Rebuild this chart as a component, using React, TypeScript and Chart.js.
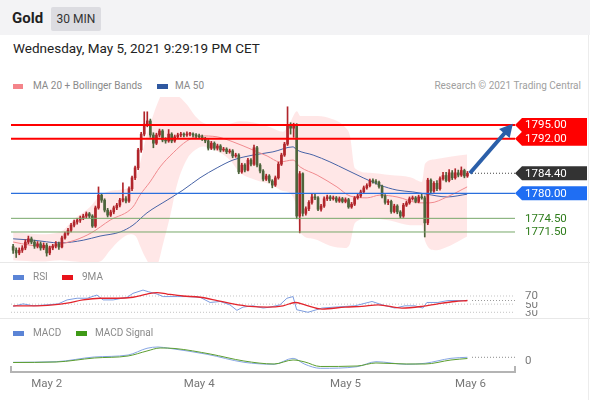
import React, { useEffect, useRef } from "react";
import { Chart, registerables } from "chart.js";

Chart.register(...registerables);

const FONT = "Roboto, 'Liberation Sans', Arial, sans-serif";

// ---------------- DATA ----------------
// 30-minute candles, index 0..149 (oldest -> latest)
const opens = [
  1768.3, 1767.5, 1766.9, 1767.5, 1768.0, 1769.3, 1770.0, 1769.3, 1768.4, 1768.9,
  1768.0, 1768.6, 1766.9, 1768.0, 1768.4, 1768.9, 1768.2, 1770.2, 1771.1, 1771.9,
  1773.0, 1773.7, 1774.1, 1774.6, 1775.0, 1775.5, 1775.0, 1772.8, 1776.8, 1779.6,
  1778.5, 1776.3, 1775.2, 1775.9, 1776.8, 1777.4, 1778.5, 1778.8, 1778.3, 1781.0,
  1783.4, 1785.6, 1789.5, 1793.0, 1795.2, 1795.9, 1792.8, 1791.0, 1792.8, 1793.7,
  1791.7, 1791.5, 1793.0, 1791.5, 1792.4, 1792.8, 1793.0, 1792.8, 1793.0, 1793.0,
  1792.8, 1792.6, 1792.4, 1791.9, 1791.5, 1789.9, 1791.0, 1789.9, 1790.4, 1789.5,
  1789.7, 1789.1, 1789.3, 1788.2, 1788.4, 1784.7, 1786.2, 1785.1, 1787.3, 1786.4,
  1790.0, 1786.2, 1784.9, 1783.1, 1783.8, 1782.7, 1781.8, 1783.4, 1786.4, 1788.4,
  1790.8, 1794.8, 1794.3, 1794.8, 1775.0, 1784.3, 1775.6, 1776.6, 1778.0, 1779.2,
  1779.0, 1776.5, 1777.2, 1778.8, 1779.2, 1778.8, 1779.0, 1778.3, 1778.8, 1778.2,
  1778.6, 1777.0, 1777.6, 1779.0, 1779.4, 1780.3, 1781.2, 1781.7, 1782.7, 1782.6,
  1782.4, 1781.5, 1779.4, 1778.0, 1778.2, 1776.0, 1777.2, 1775.9, 1775.0, 1777.4,
  1777.9, 1778.8, 1779.0, 1778.2, 1779.2, 1779.0, 1773.5, 1782.9, 1780.5, 1782.2,
  1781.0, 1783.2, 1783.9, 1782.8, 1784.5, 1783.4, 1784.5, 1784.0, 1785.0, 1783.8,
];
const highs = [
  1768.8, 1768.0, 1768.0, 1768.5, 1769.8, 1770.6, 1770.4, 1769.7, 1769.4, 1769.3,
  1769.1, 1769.0, 1768.4, 1768.8, 1769.4, 1769.3, 1770.6, 1771.5, 1772.3, 1773.4,
  1774.1, 1774.5, 1775.0, 1775.4, 1775.9, 1775.8, 1775.3, 1777.2, 1781.4, 1780.0,
  1778.8, 1776.7, 1776.3, 1777.2, 1777.8, 1778.9, 1782.3, 1779.3, 1781.4, 1783.8,
  1786.0, 1789.9, 1793.4, 1797.9, 1797.9, 1796.3, 1793.3, 1793.2, 1794.1, 1794.0,
  1792.2, 1794.0, 1793.3, 1792.8, 1793.2, 1793.4, 1793.3, 1793.5, 1793.4, 1793.3,
  1793.1, 1793.0, 1792.8, 1792.3, 1791.8, 1791.4, 1791.3, 1790.8, 1790.7, 1790.1,
  1790.0, 1789.7, 1789.6, 1788.8, 1788.7, 1786.6, 1786.5, 1787.7, 1787.6, 1790.6,
  1790.3, 1786.5, 1785.2, 1784.2, 1784.1, 1783.0, 1783.8, 1786.8, 1788.8, 1791.2,
  1799.0, 1795.5, 1795.4, 1795.3, 1784.8, 1784.5, 1777.0, 1778.4, 1779.8, 1779.9,
  1779.3, 1777.6, 1779.2, 1779.6, 1779.5, 1779.4, 1779.3, 1779.2, 1779.1, 1779.0,
  1778.9, 1778.0, 1779.3, 1779.8, 1780.7, 1781.6, 1782.1, 1783.1, 1783.2, 1783.0,
  1782.7, 1781.8, 1779.7, 1778.6, 1778.5, 1777.6, 1777.5, 1776.2, 1777.8, 1778.3,
  1779.2, 1779.4, 1779.3, 1779.6, 1779.9, 1779.4, 1783.3, 1783.2, 1782.6, 1782.8,
  1783.6, 1784.6, 1784.6, 1785.2, 1785.0, 1785.4, 1785.1, 1785.8, 1785.3, 1784.8,
];
const lows = [
  1766.8, 1765.9, 1766.5, 1767.0, 1767.6, 1768.9, 1768.9, 1767.9, 1768.0, 1767.5,
  1767.6, 1766.2, 1766.5, 1767.6, 1768.0, 1767.7, 1768.0, 1769.9, 1770.8, 1771.5,
  1772.6, 1773.2, 1773.6, 1774.2, 1774.5, 1774.6, 1772.5, 1772.5, 1776.5, 1778.0,
  1775.9, 1774.8, 1774.9, 1775.5, 1776.4, 1777.0, 1778.1, 1777.9, 1778.0, 1780.6,
  1783.0, 1785.2, 1789.0, 1792.6, 1794.6, 1792.3, 1790.0, 1790.7, 1792.4, 1791.3,
  1791.0, 1791.2, 1791.1, 1791.2, 1792.0, 1792.4, 1792.4, 1792.5, 1792.6, 1792.4,
  1792.2, 1792.0, 1791.6, 1791.1, 1789.5, 1789.6, 1789.5, 1789.5, 1789.1, 1789.2,
  1788.7, 1788.8, 1787.8, 1787.9, 1784.3, 1784.4, 1784.7, 1784.9, 1786.0, 1786.1,
  1785.8, 1784.5, 1782.7, 1782.8, 1782.3, 1781.2, 1781.5, 1783.1, 1786.1, 1788.1,
  1790.5, 1793.0, 1792.3, 1774.4, 1771.3, 1775.0, 1775.2, 1776.2, 1777.6, 1778.6,
  1776.2, 1776.1, 1776.9, 1778.4, 1778.4, 1778.5, 1778.0, 1778.0, 1777.9, 1777.9,
  1776.7, 1776.7, 1777.3, 1778.7, 1779.1, 1780.0, 1780.9, 1781.4, 1782.2, 1782.0,
  1781.1, 1779.0, 1777.6, 1777.5, 1775.6, 1775.7, 1775.5, 1774.6, 1774.7, 1777.1,
  1777.6, 1778.5, 1777.9, 1777.9, 1778.7, 1770.4, 1773.1, 1780.1, 1780.2, 1780.6,
  1780.7, 1782.9, 1782.5, 1782.5, 1783.0, 1783.1, 1783.6, 1783.7, 1783.4, 1783.5,
];
const closes = [
  1767.5, 1766.9, 1767.5, 1768.0, 1769.3, 1770.0, 1769.3, 1768.4, 1768.9, 1768.0,
  1768.6, 1766.9, 1768.0, 1768.4, 1768.9, 1768.2, 1770.2, 1771.1, 1771.9, 1773.0,
  1773.7, 1774.1, 1774.6, 1775.0, 1775.5, 1775.0, 1772.8, 1776.8, 1779.6, 1778.5,
  1776.3, 1775.2, 1775.9, 1776.8, 1777.4, 1778.5, 1778.8, 1778.3, 1781.0, 1783.4,
  1785.6, 1789.5, 1793.0, 1795.2, 1795.9, 1792.8, 1791.0, 1792.8, 1793.7, 1791.7,
  1791.5, 1793.0, 1791.5, 1792.4, 1792.8, 1793.0, 1792.8, 1793.0, 1793.0, 1792.8,
  1792.6, 1792.4, 1791.9, 1791.5, 1789.9, 1791.0, 1789.9, 1790.4, 1789.5, 1789.7,
  1789.1, 1789.3, 1788.2, 1788.4, 1784.7, 1786.2, 1785.1, 1787.3, 1786.4, 1790.0,
  1786.2, 1784.9, 1783.1, 1783.8, 1782.7, 1781.8, 1783.4, 1786.4, 1788.4, 1790.8,
  1794.8, 1794.3, 1794.8, 1775.0, 1784.3, 1775.6, 1776.6, 1778.0, 1779.2, 1779.0,
  1776.5, 1777.2, 1778.8, 1779.2, 1778.8, 1779.0, 1778.3, 1778.8, 1778.2, 1778.6,
  1777.0, 1777.6, 1779.0, 1779.4, 1780.3, 1781.2, 1781.7, 1782.7, 1782.6, 1782.4,
  1781.5, 1779.4, 1778.0, 1778.2, 1776.0, 1777.2, 1775.9, 1775.0, 1777.4, 1777.9,
  1778.8, 1779.0, 1778.2, 1779.2, 1779.0, 1773.5, 1782.9, 1780.5, 1782.2, 1781.0,
  1783.2, 1783.9, 1782.8, 1784.5, 1783.4, 1784.5, 1784.0, 1785.0, 1783.8, 1784.4,
];

// x-axis tick labels (candle index positions)
const xTickIdx = [11, 61, 109, 150];
const xTickLabels = ["May 2", "May 4", "May 5", "May 6"];

// key levels
const resistanceLevels = [1795.0, 1792.0];
const pivotLevel = 1780.0;
const supportLevels = [1774.5, 1771.5];
const lastPrice = 1784.4;
const lastIdx = 150.5;
const arrowFrom = [149.8, 1784.4];
const arrowTo = [163.9, 1795.3];

// MA 20 (read at candle positions)
const ma20Idx = [0, 5.6, 11.5, 15.7, 20.3, 25.6, 31.8, 39.3, 41.6, 44.9, 48.2, 52.5, 57, 61.3, 66.9, 72.1, 78.7, 83.3, 87.5, 91.8, 94.1, 99.7, 106.2, 110.5, 116.1, 120.3, 125.9, 133.4, 136.7, 142.3, 148.9];
const ma20Vals = [1769.3, 1768.6, 1768.2, 1768.9, 1769.7, 1771.3, 1774.1, 1777.0, 1779.6, 1782.5, 1785.8, 1788.9, 1791.5, 1792.6, 1792.4, 1791.3, 1789.5, 1788.2, 1786.9, 1787.3, 1785.8, 1784.0, 1781.4, 1779.4, 1779.0, 1779.6, 1779.2, 1777.9, 1777.9, 1779.2, 1781.4];

// MA 50
const ma50Idx = [0, 6.6, 15.4, 23, 28.5, 35.1, 39.3, 43.9, 50.5, 55.7, 61.3, 66.9, 72.1, 78.7, 85.2, 91.8, 93.1, 98.4, 103.9, 109.5, 114.8, 120.3, 125.9, 131.1, 135.7, 142.3, 148.9];
const ma50Vals = [1770.0, 1769.7, 1769.1, 1769.7, 1770.6, 1771.5, 1773.0, 1775.7, 1778.5, 1780.7, 1783.4, 1785.6, 1787.3, 1788.4, 1789.1, 1790.2, 1789.5, 1788.4, 1786.9, 1785.1, 1783.4, 1781.8, 1780.7, 1780.3, 1779.8, 1779.2, 1779.8];

// Bollinger bands
const bbIdx = [0, 8.9, 15.4, 20.3, 25.2, 28.5, 31.8, 35.1, 38.4, 40.3, 41.6, 43.3, 44.9, 47.2, 49.2, 51.5, 53.8, 57, 59.7, 62.3, 66.2, 71.1, 74.4, 79.3, 84.3, 88.5, 90.8, 93.1, 94.1, 98.4, 103.9, 108.9, 110.5, 112.1, 117, 123.6, 130.2, 134.1, 135.1, 138.4, 143.3, 148.9];
const bbUpper = [1771.5, 1771.0, 1771.5, 1774.5, 1777.0, 1779.5, 1780.5, 1780.8, 1781.5, 1783.5, 1786.5, 1791.5, 1795.0, 1799.5, 1802.0, 1802.0, 1801.5, 1799.5, 1797.0, 1795.5, 1795.0, 1795.3, 1795.8, 1795.5, 1794.5, 1793.5, 1795.5, 1798.0, 1797.0, 1797.0, 1796.5, 1794.5, 1792.5, 1785.5, 1784.5, 1784.0, 1783.5, 1782.5, 1786.5, 1787.5, 1788.0, 1788.5];
const bbLower = [1765.3, 1765.0, 1765.3, 1765.0, 1764.8, 1765.0, 1767.5, 1769.8, 1771.0, 1770.5, 1768.5, 1766.0, 1764.5, 1764.5, 1769.0, 1775.0, 1782.0, 1787.5, 1789.5, 1790.3, 1789.5, 1787.3, 1784.5, 1783.0, 1782.0, 1780.5, 1780.0, 1776.5, 1771.5, 1770.0, 1768.5, 1768.0, 1769.0, 1773.5, 1774.5, 1774.0, 1773.0, 1773.0, 1769.5, 1767.5, 1768.5, 1770.5];

// RSI and its 9-period MA
const rsiIdx = [0, 3.3, 6.6, 11.1, 14.8, 17.7, 21, 24.3, 27.5, 29.5, 32.8, 37.4, 39.3, 42.6, 44.3, 47.2, 49.2, 53.8, 57, 61.3, 64.6, 67.9, 71.1, 73.4, 75.4, 78.7, 82, 84.3, 87.5, 89.8, 91.8, 93, 96.7, 101.3, 105.6, 112.1, 117.7, 121, 125.2, 128.5, 131.8, 134.4, 135.7, 139.3, 142.6, 145.9, 149];
const rsiVals = [44.5, 50.7, 45.9, 48.3, 50.7, 60.4, 64.5, 64.5, 72.4, 60.4, 60.4, 66.9, 76.5, 84.5, 80.6, 74.8, 68.6, 68.6, 68.6, 66.9, 54.1, 56.5, 48.3, 34.8, 42.8, 45.9, 40.4, 42.8, 48.3, 64.5, 68.6, 36.3, 30.0, 40.4, 42.8, 45.9, 56.5, 48.3, 40.4, 45.9, 45.9, 40.4, 54.1, 54.1, 58.9, 58.9, 58.9];
const rsiMaIdx = [0, 6.6, 13.1, 17.7, 22.9, 28.5, 34.1, 39.3, 43.9, 47.2, 50.5, 55.7, 61.3, 66.9, 72.1, 77.7, 83.3, 88.5, 92.5, 95.7, 101.3, 108.9, 114.4, 119.7, 127.5, 134.1, 139.3, 144.9, 149];
const rsiMaVals = [45.9, 45.9, 48.3, 52.4, 60.4, 64.5, 64.5, 66.9, 74.8, 78.2, 74.8, 70.0, 66.9, 58.9, 50.7, 44.5, 42.8, 45.9, 54.1, 48.3, 38.0, 42.8, 44.5, 48.3, 40.4, 44.5, 50.7, 56.5, 58.9];
const rsiLevels = [30, 50, 70];

// MACD and signal
const macdIdx = [0, 14.1, 26.6, 37.7, 43.9, 47.5, 51.1, 63.6, 75.7, 85.6, 91.8, 95.7, 100.7, 112.8, 119, 128.9, 135.1, 143.6, 149];
const macdVals = [-0.46, -0.25, 1.43, 2.14, 4.54, 5.0, 4.54, 2.39, -0.46, -1.18, 0.96, -1.18, -2.61, -2.04, -0.25, -1.18, -0.82, 0.96, 1.32];
const signalIdx = [0, 14.1, 26.6, 37.7, 43.9, 48.2, 53.1, 64.6, 75.7, 85.6, 91.8, 95.7, 100.7, 112.8, 119, 128.9, 135.1, 143.6, 149];
const signalVals = [-0.54, -0.36, 1.07, 1.79, 3.57, 4.64, 4.46, 2.5, 0, -1.07, 0.36, -0.36, -1.96, -1.79, -0.71, -1.07, -1.07, 0.36, 0.89];

// ---------------- LAYOUT / STYLE ----------------
const X_MIN = -0.7;
const X_MAX = 164.6;
const MAIN_Y = [1764.91, 1801.15];
const RSI_Y = [16.0, 101.9];
const MACD_Y = [-3.93, 8.21];

const UP = "#b1252b";
const DOWN = "#4d643b";
const RED = "#ff0000";
const BLUE = "#2a6fdd";
const GREEN_LINE = "#78a86a";
const GREEN_TEXT = "#2f7d1c";

function pts(xs: number[], ys: number[]) {
  return xs.map((x, i) => ({ x, y: ys[i] }));
}

function hline(y: number, color: string, width: number, dash: number[] = [], from = X_MIN, order = 0) {
  return {
    type: "line",
    data: [{ x: from, y }, { x: X_MAX, y }],
    borderColor: color,
    borderWidth: width,
    borderDash: dash,
    pointRadius: 0,
    fill: false,
    order,
  };
}

function lineDs(xs: number[], ys: number[], color: string, width: number, order: number, smooth = true) {
  return {
    type: "line",
    data: pts(xs, ys),
    borderColor: color,
    borderWidth: width,
    pointRadius: 0,
    fill: false,
    cubicInterpolationMode: smooth ? "monotone" : "default",
    tension: 0,
    order,
  };
}

function baseOptions(yr: number[]) {
  return {
    responsive: false,
    animation: false,
    events: [],
    layout: { padding: { left: 11, right: 75, top: 0, bottom: 0 } },
    plugins: { legend: { display: false }, tooltip: { enabled: false } },
    scales: {
      x: { type: "linear", min: X_MIN, max: X_MAX, display: false, offset: false, grid: { display: false } },
      y: { type: "linear", min: yr[0], max: yr[1], display: false },
    },
  };
}

function drawBadge(ctx: CanvasRenderingContext2D, left: number, right: number, yc: number, h: number, fill: string, text: string) {
  ctx.save();
  ctx.beginPath();
  ctx.moveTo(left, yc);
  ctx.lineTo(left + h / 2, yc - h / 2);
  ctx.lineTo(right, yc - h / 2);
  ctx.lineTo(right, yc + h / 2);
  ctx.lineTo(left + h / 2, yc + h / 2);
  ctx.closePath();
  ctx.fillStyle = fill;
  ctx.fill();
  ctx.fillStyle = "#ffffff";
  ctx.font = `11.5px ${FONT}`;
  ctx.textBaseline = "middle";
  ctx.textAlign = "left";
  ctx.fillText(text, left + 10, yc + 0.5);
  ctx.restore();
}

const mainOverlay = {
  id: "mainOverlay",
  afterDatasetsDraw(chart: any) {
    const { ctx, scales } = chart;
    const xs = scales.x;
    const ys = scales.y;
    const sx = xs.getPixelForValue(arrowFrom[0]);
    const sy = ys.getPixelForValue(arrowFrom[1]);
    const tx = xs.getPixelForValue(arrowTo[0]);
    const ty = ys.getPixelForValue(arrowTo[1]);
    const dx = tx - sx;
    const dy = ty - sy;
    const len = Math.sqrt(dx * dx + dy * dy);
    const ux = dx / len;
    const uy = dy / len;
    const nx = -uy;
    const ny = ux;
    const headL = 13;
    const headW = 7;
    ctx.save();
    ctx.strokeStyle = "#2b5fa9";
    ctx.fillStyle = "#2b5fa9";
    ctx.lineWidth = 4;
    ctx.lineCap = "butt";
    ctx.beginPath();
    ctx.moveTo(sx, sy);
    ctx.lineTo(tx - ux * (headL - 2), ty - uy * (headL - 2));
    ctx.stroke();
    ctx.beginPath();
    ctx.moveTo(tx, ty);
    ctx.lineTo(tx - ux * headL + nx * headW, ty - uy * headL + ny * headW);
    ctx.lineTo(tx - ux * headL - nx * headW, ty - uy * headL - ny * headW);
    ctx.closePath();
    ctx.fill();
    ctx.restore();
  },
  afterDraw(chart: any) {
    const { ctx, chartArea, scales } = chart;
    const ys = scales.y;
    const left = chartArea.right;
    const right = 587;
    const badges = [
      { v: resistanceLevels[0], fill: RED },
      { v: resistanceLevels[1], fill: RED },
      { v: lastPrice, fill: "#333333" },
      { v: pivotLevel, fill: "#1f6ef3" },
    ];
    badges.forEach((b) => drawBadge(ctx, left, right, ys.getPixelForValue(b.v), 14, b.fill, b.v.toFixed(2)));
    ctx.save();
    ctx.fillStyle = GREEN_TEXT;
    ctx.font = `11.5px ${FONT}`;
    ctx.textBaseline = "middle";
    supportLevels.forEach((v) => ctx.fillText(v.toFixed(2), left + 10, ys.getPixelForValue(v) + 0.5));
    ctx.restore();
  },
};

const rsiOverlay = {
  id: "rsiOverlay",
  afterDraw(chart: any) {
    const { ctx, chartArea, scales } = chart;
    const ys = scales.y;
    ctx.save();
    ctx.font = `11.5px ${FONT}`;
    ctx.textBaseline = "middle";
    rsiLevels.forEach((v) => {
      const y = ys.getPixelForValue(v);
      ctx.fillStyle = "#ffffff";
      ctx.fillRect(chartArea.right + 6, y - 7, 30, 13);
      ctx.fillStyle = "#7a7a7a";
      ctx.fillText(String(v), chartArea.right + 10, y + 0.5);
    });
    ctx.restore();
  },
};

const macdOverlay = {
  id: "macdOverlay",
  afterDraw(chart: any) {
    const { ctx, chartArea, scales } = chart;
    const ys = scales.y;
    ctx.save();
    ctx.strokeStyle = "#b4b4b4";
    ctx.lineWidth = 2;
    ctx.beginPath();
    ctx.moveTo(chartArea.left, chartArea.bottom - 6);
    ctx.lineTo(chartArea.left, chartArea.bottom);
    ctx.lineTo(chartArea.right, chartArea.bottom);
    ctx.lineTo(chartArea.right, chartArea.bottom - 6);
    ctx.stroke();
    ctx.font = `11.5px ${FONT}`;
    ctx.textBaseline = "middle";
    ctx.fillStyle = "#7a7a7a";
    ctx.fillText("0", chartArea.right + 10, ys.getPixelForValue(0) + 0.5);
    ctx.restore();
  },
};

export default function App() {
  const mainRef = useRef<HTMLCanvasElement>(null);
  const rsiRef = useRef<HTMLCanvasElement>(null);
  const macdRef = useRef<HTMLCanvasElement>(null);

  useEffect(() => {
    document.body.style.margin = "0";
    const charts: any[] = [];
    const candleColor = (c: any) => (closes[c.dataIndex] >= opens[c.dataIndex] ? UP : DOWN);
    const idx = closes.map((_, i) => i);

    if (mainRef.current) {
      const opts: any = baseOptions(MAIN_Y);
      charts.push(
        new Chart(mainRef.current, {
          type: "line",
          data: {
            datasets: [
              hline(resistanceLevels[0], RED, 2),
              hline(resistanceLevels[1], RED, 2),
              hline(pivotLevel, BLUE, 1.2),
              hline(supportLevels[0], GREEN_LINE, 1),
              hline(supportLevels[1], GREEN_LINE, 1),
              hline(lastPrice, "#444444", 1, [1, 2], lastIdx),
              {
                type: "bar",
                data: idx.map((i) => ({ x: i, y: [opens[i], closes[i]] })),
                barThickness: 2,
                minBarLength: 1,
                grouped: false,
                backgroundColor: candleColor,
                borderWidth: 0,
                order: 1,
              },
              {
                type: "bar",
                data: idx.map((i) => ({ x: i, y: [lows[i], highs[i]] })),
                barThickness: 1,
                grouped: false,
                backgroundColor: candleColor,
                borderWidth: 0,
                order: 2,
              },
              lineDs(ma20Idx, ma20Vals, "#f08a8e", 1, 3),
              lineDs(ma50Idx, ma50Vals, "#4763a6", 1, 3),
              {
                type: "line",
                data: pts(bbIdx, bbUpper),
                borderColor: "rgba(0,0,0,0)",
                borderWidth: 0,
                pointRadius: 0,
                cubicInterpolationMode: "monotone",
                fill: "+1",
                backgroundColor: "rgba(255,40,40,0.11)",
                order: 5,
              },
              {
                type: "line",
                data: pts(bbIdx, bbLower),
                borderColor: "rgba(0,0,0,0)",
                borderWidth: 0,
                pointRadius: 0,
                cubicInterpolationMode: "monotone",
                fill: false,
                order: 5,
              },
            ],
          } as any,
          options: opts,
          plugins: [mainOverlay],
        })
      );
    }

    if (rsiRef.current) {
      const opts: any = baseOptions(RSI_Y);
      charts.push(
        new Chart(rsiRef.current, {
          type: "line",
          data: {
            datasets: [
              ...rsiLevels.map((v) => hline(v, "#c4c4c4", 1, [1, 2], X_MIN, 4)),
              hline(rsiVals[rsiVals.length - 1], "#9a9a9a", 1, [1, 2], lastIdx, 4),
              lineDs(rsiIdx, rsiVals, "#7d9de0", 1, 1, false),
              lineDs(rsiMaIdx, rsiMaVals, "#e3242c", 1.3, 0),
            ],
          } as any,
          options: opts,
          plugins: [rsiOverlay],
        })
      );
    }

    if (macdRef.current) {
      const opts: any = baseOptions(MACD_Y);
      opts.scales.x = {
        type: "linear",
        min: X_MIN,
        max: X_MAX,
        offset: false,
        display: true,
        grid: { display: false, drawTicks: false },
        border: { display: false },
        afterBuildTicks: (s: any) => {
          s.ticks = xTickIdx.map((v) => ({ value: v }));
        },
        afterFit: (s: any) => {
          s.height = 28;
        },
        ticks: {
          autoSkip: false,
          maxRotation: 0,
          padding: 5,
          color: "#777777",
          font: { family: FONT, size: 11.5 },
          callback: (_v: any, i: number) => xTickLabels[i],
        },
      };
      charts.push(
        new Chart(macdRef.current, {
          type: "line",
          data: {
            datasets: [
              hline(macdVals[macdVals.length - 1], "#8a8a8a", 1, [1, 2], lastIdx, 4),
              lineDs(macdIdx, macdVals, "#86a5e3", 1, 1),
              lineDs(signalIdx, signalVals, "#5c9e30", 1, 0),
            ],
          } as any,
          options: opts,
          plugins: [macdOverlay],
        })
      );
    }

    return () => charts.forEach((c) => c.destroy());
  }, []);

  const abs = (s: React.CSSProperties): React.CSSProperties => ({ position: "absolute", ...s });
  const legendText: React.CSSProperties = { fontSize: 10, lineHeight: "12px", color: "#8a8a8a", whiteSpace: "nowrap" };

  return (
    <div
      style={{
        position: "fixed",
        left: 0,
        top: 0,
        width: 590,
        height: 400,
        background: "#ffffff",
        overflow: "hidden",
        fontFamily: FONT,
      }}
    >
      {/* header */}
      <div style={abs({ left: 0, top: 0, width: 590, height: 35, background: "#f3f3f5" })} />
      <div style={abs({ left: 12, top: 10, fontSize: 15, lineHeight: "16px", fontWeight: 700, color: "#1f1f1f" })}>Gold</div>
      <div
        style={abs({
          left: 51,
          top: 7,
          width: 50,
          height: 24,
          background: "#dcdce1",
          borderRadius: 2,
          fontSize: 12,
          lineHeight: "24px",
          textAlign: "center",
          color: "#333333",
        })}
      >
        30 MIN
      </div>
      <div style={abs({ left: 13, top: 41, fontSize: 13.5, lineHeight: "14px", color: "#222222", whiteSpace: "nowrap" })}>
        Wednesday, May 5, 2021 9:29:19 PM CET
      </div>

      {/* main legend */}
      <div style={abs({ left: 13, top: 84, width: 10, height: 5, background: "#f4848a" })} />
      <div style={abs({ left: 33, top: 80, ...legendText })}>MA 20 + Bollinger Bands</div>
      <div style={abs({ left: 157, top: 84, width: 11, height: 5, background: "#2f58a0" })} />
      <div style={abs({ left: 175, top: 80, ...legendText })}>MA 50</div>
      <div style={abs({ right: 9, top: 80, ...legendText, color: "#a0a0a0" })}>Research © 2021 Trading Central</div>

      <canvas ref={mainRef} width={590} height={165} style={abs({ left: 0, top: 97, width: 590, height: 165 })} />

      {/* separators */}
      <div style={abs({ left: 0, top: 262, width: 590, height: 1, background: "#e8e8e8" })} />
      <div style={abs({ left: 0, top: 318, width: 590, height: 1, background: "#e8e8e8" })} />
      <div style={abs({ left: 588, top: 35, width: 1, height: 365, background: "#ececec" })} />

      {/* RSI legend */}
      <div style={abs({ left: 13, top: 275, width: 11, height: 5, background: "#5b84d6" })} />
      <div style={abs({ left: 33, top: 271, ...legendText })}>RSI</div>
      <div style={abs({ left: 62, top: 275, width: 11, height: 5, background: "#e8131b" })} />
      <div style={abs({ left: 82, top: 271, ...legendText })}>9MA</div>
      <canvas ref={rsiRef} width={590} height={35} style={abs({ left: 0, top: 283, width: 590, height: 35 })} />

      {/* MACD legend */}
      <div style={abs({ left: 13, top: 331, width: 11, height: 5, background: "#5b84d6" })} />
      <div style={abs({ left: 33, top: 327, ...legendText })}>MACD</div>
      <div style={abs({ left: 76, top: 331, width: 11, height: 5, background: "#3f9a17" })} />
      <div style={abs({ left: 95, top: 327, ...legendText })}>MACD Signal</div>
      <canvas ref={macdRef} width={590} height={62} style={abs({ left: 0, top: 338, width: 590, height: 62 })} />
    </div>
  );
}
